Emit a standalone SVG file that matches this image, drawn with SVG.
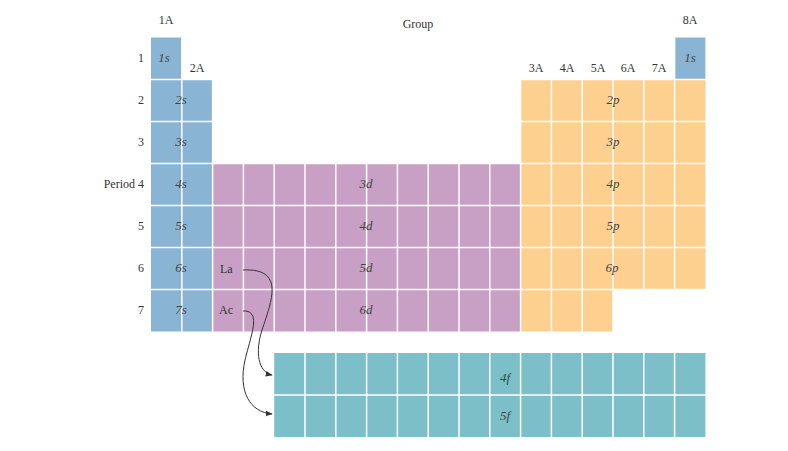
<svg xmlns="http://www.w3.org/2000/svg" width="788" height="451" viewBox="0 0 788 451">
<defs>
<style>
.t{font-family:"Liberation Serif",serif;font-size:12px;fill:#333}
.i{font-family:"Liberation Serif",serif;font-size:13px;font-style:italic;fill:#444;text-anchor:middle}
.g{stroke:#fff;stroke-width:1.5;fill:none}
.a{stroke:#333;stroke-width:1;fill:none;marker-end:url(#ar)}
</style>
<marker id="ar" viewBox="0 0 10 10" refX="9" refY="5" markerWidth="7" markerHeight="7" orient="auto"><path d="M0,1 L10,5 L0,9 z" fill="#333"/></marker>
</defs>
<rect width="788" height="451" fill="#fff"/>
<g id="s-block" fill="#8ab4d4">
<rect x="151" y="37.5" width="30.8" height="294"/>
<rect x="181.8" y="79.5" width="30.8" height="252"/>
<rect x="674.6" y="37.5" width="30.8" height="42"/>
</g>
<g id="d-block"><rect x="212.6" y="163.5" width="308" height="168" fill="#c8a0c6"/></g>
<g id="p-block" fill="#fed08f">
<rect x="520.6" y="79.5" width="184.8" height="210"/>
<rect x="520.6" y="289.5" width="92.4" height="42"/>
</g>
<g id="f-block"><rect x="274.2" y="353" width="431.2" height="84" fill="#7cbfc8"/></g>
<path class="g" d="M151,79.5H706M151,121.5H706M151,163.5H706M151,205.5H706M151,247.5H706M151,289.5H706
M181.8,37.5V332M212.6,37.5V332M243.4,37.5V332M274.2,37.5V332M305,37.5V332M335.8,37.5V332M366.6,37.5V332M397.4,37.5V332M428.2,37.5V332M459,37.5V332M489.8,37.5V332M520.6,37.5V332M551.4,37.5V332M582.2,37.5V332M613,37.5V332M643.8,37.5V332M674.6,37.5V332
M274,395H706M305,353V437M335.8,353V437M366.6,353V437M397.4,353V437M428.2,353V437M459,353V437M489.8,353V437M520.6,353V437M551.4,353V437M582.2,353V437M613,353V437M643.8,353V437M674.6,353V437"/>
<g id="labels">
<text class="t" x="166" y="24" text-anchor="middle">1A</text>
<text class="t" x="418" y="28" text-anchor="middle">Group</text>
<text class="t" x="690" y="24" text-anchor="middle">8A</text>
<text class="t" x="197" y="72" text-anchor="middle">2A</text>
<text class="t" x="536" y="72" text-anchor="middle">3A</text>
<text class="t" x="567" y="72" text-anchor="middle">4A</text>
<text class="t" x="598" y="72" text-anchor="middle">5A</text>
<text class="t" x="628" y="72" text-anchor="middle">6A</text>
<text class="t" x="659" y="72" text-anchor="middle">7A</text>
<text class="t" x="144" y="62" text-anchor="end">1</text>
<text class="t" x="144" y="104" text-anchor="end">2</text>
<text class="t" x="144" y="146" text-anchor="end">3</text>
<text class="t" x="144" y="188" text-anchor="end">Period  4</text>
<text class="t" x="144" y="230" text-anchor="end">5</text>
<text class="t" x="144" y="272" text-anchor="end">6</text>
<text class="t" x="144" y="314" text-anchor="end">7</text>
<text class="i" x="164" y="62">1s</text>
<text class="i" x="690" y="62">1s</text>
<text class="i" x="181" y="104">2s</text>
<text class="i" x="181" y="146">3s</text>
<text class="i" x="181" y="188">4s</text>
<text class="i" x="181" y="230">5s</text>
<text class="i" x="181" y="272">6s</text>
<text class="i" x="181" y="314">7s</text>
<text class="i" x="613" y="104">2p</text>
<text class="i" x="613" y="146">3p</text>
<text class="i" x="613" y="188">4p</text>
<text class="i" x="613" y="230">5p</text>
<text class="i" x="612" y="272">6p</text>
<text class="i" x="366" y="188">3d</text>
<text class="i" x="366" y="230">4d</text>
<text class="i" x="366" y="272">5d</text>
<text class="i" x="366" y="314">6d</text>
<text class="i" x="505" y="382">4f</text>
<text class="i" x="505" y="420">5f</text>
<text class="t" x="220" y="273">La</text>
<text class="t" x="219" y="314">Ac</text>
</g>
<g id="connectors">
<path class="a" d="M243,270 C285,268 272,300 262,330 C255,352 258,372 272,375"/>
<path class="a" d="M243,311 C262,310 251,335 245,360 C238,392 250,412 272,414"/>
</g>
</svg>
